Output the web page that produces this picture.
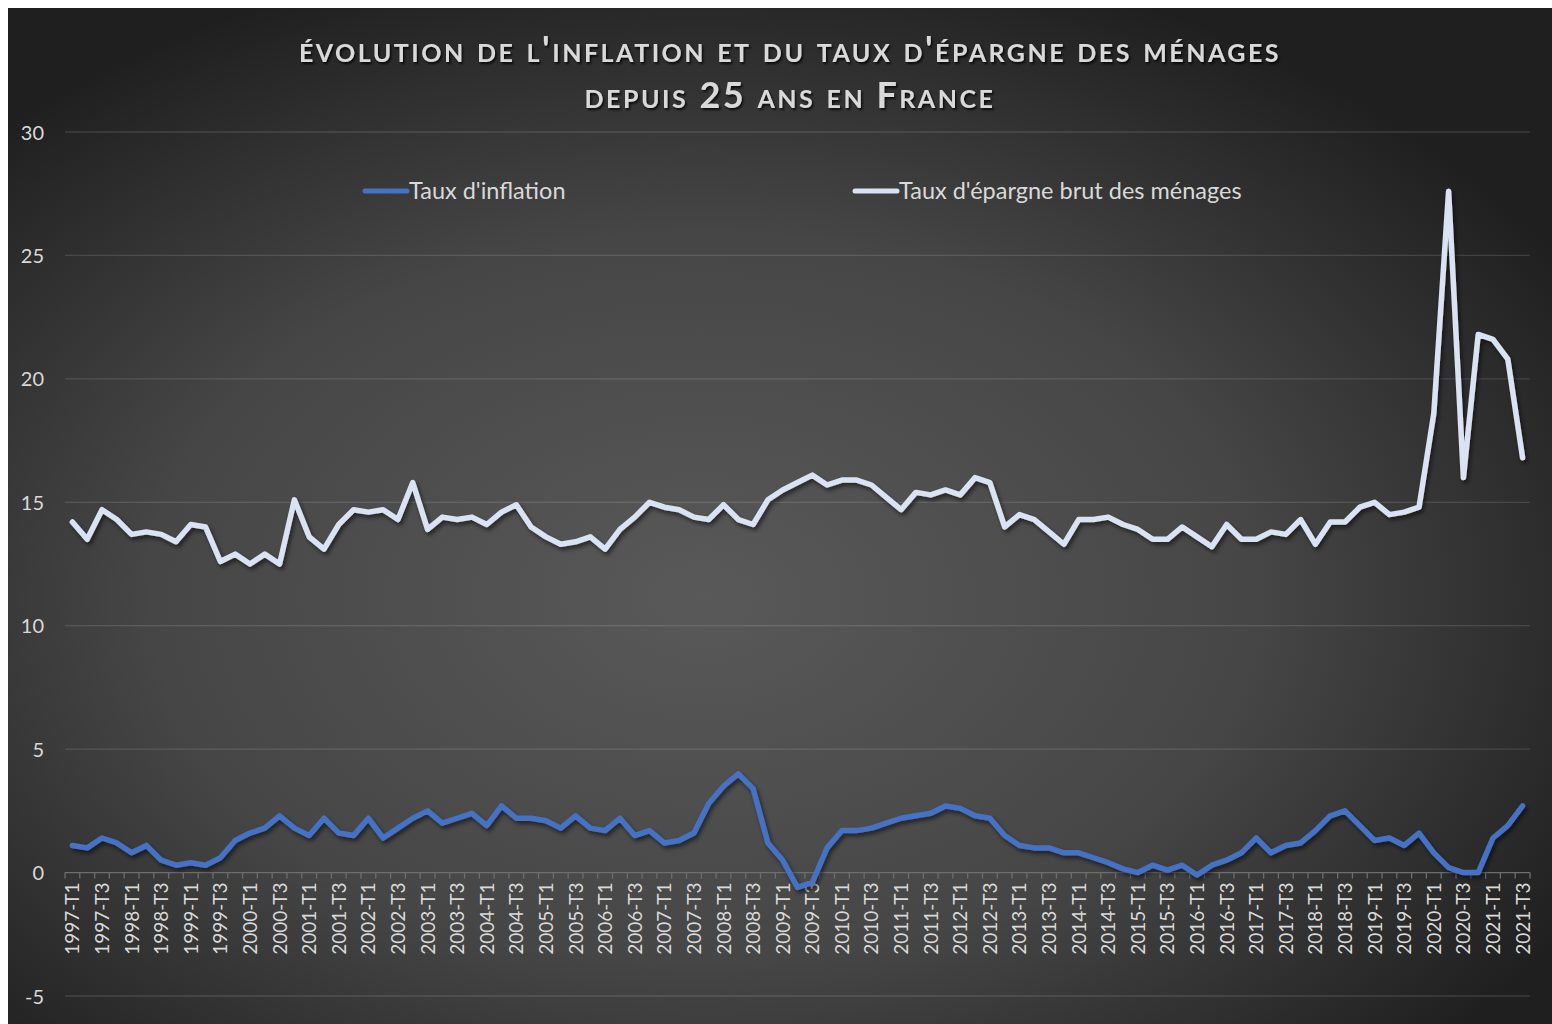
<!DOCTYPE html>
<html>
<head>
<meta charset="utf-8">
<script src="https://cdn.jsdelivr.net/npm/d3@7"></script>
<style>
  body { margin: 0; background: #fff; }
  svg { display: block; }
  text { font-family: Lato, 'Open Sans', sans-serif; }
</style>
</head>
<body>
<div class="canvas"></div>
<script>
// data
const years = d3.range(1997, 2022)
const quarters = ['T1', 'T2', 'T3', 'T4']
const categories = years
  .flatMap((y) => quarters.map((q) => `${y}-${q}`))
  .slice(0, 99) // last quarter: 2021-T3

const inflation = [
  1.1, 1.0, 1.4, 1.2, 0.8, 1.1, 0.5, 0.3, 0.4, 0.3, 0.6, 1.3,
  1.6, 1.8, 2.3, 1.8, 1.5, 2.2, 1.6, 1.5, 2.2, 1.4, 1.8, 2.2,
  2.5, 2.0, 2.2, 2.4, 1.9, 2.7, 2.2, 2.2, 2.1, 1.8, 2.3, 1.8,
  1.7, 2.2, 1.5, 1.7, 1.2, 1.3, 1.6, 2.8, 3.5, 4.0, 3.4, 1.2,
  0.5, -0.6, -0.4, 1.0, 1.7, 1.7, 1.8, 2.0, 2.2, 2.3, 2.4, 2.7,
  2.6, 2.3, 2.2, 1.5, 1.1, 1.0, 1.0, 0.8, 0.8, 0.6, 0.4, 0.15,
  0.0, 0.3, 0.1, 0.3, -0.1, 0.3, 0.5, 0.8, 1.4, 0.8, 1.1, 1.2,
  1.7, 2.3, 2.5, 1.9, 1.3, 1.4, 1.1, 1.6, 0.8, 0.2, 0.0, 0.0,
  1.4, 1.9, 2.7,
]

const savings = [
  14.2, 13.5, 14.7, 14.3, 13.7, 13.8, 13.7, 13.4, 14.1, 14.0, 12.6, 12.9,
  12.5, 12.9, 12.5, 15.1, 13.6, 13.1, 14.1, 14.7, 14.6, 14.7, 14.3, 15.8,
  13.9, 14.4, 14.3, 14.4, 14.1, 14.6, 14.9, 14.0, 13.6, 13.3, 13.4, 13.6,
  13.1, 13.9, 14.4, 15.0, 14.8, 14.7, 14.4, 14.3, 14.9, 14.3, 14.1, 15.1,
  15.5, 15.8, 16.1, 15.7, 15.9, 15.9, 15.7, 15.2, 14.7, 15.4, 15.3, 15.5,
  15.3, 16.0, 15.8, 14.0, 14.5, 14.3, 13.8, 13.3, 14.3, 14.3, 14.4, 14.1,
  13.9, 13.5, 13.5, 14.0, 13.6, 13.2, 14.1, 13.5, 13.5, 13.8, 13.7, 14.3,
  13.3, 14.2, 14.2, 14.8, 15.0, 14.5, 14.6, 14.8, 18.6, 27.6, 16.0, 21.8,
  21.6, 20.8, 16.8,
]

const yTicks = [-5, 0, 5, 10, 15, 20, 25, 30]
const seriesNames = ["Taux d'inflation", "Taux d'épargne brut des ménages"]
const seriesColors = ['#4472c4', '#dae3f3']

// dimensions
const dimensions = {
  width: 1552,
  height: 1024,
  frame: { x: 8, y: 8 },
  plot: { left: 65, right: 1530, top: 132, bottom: 996 },
}

const svg = d3
  .select('.canvas')
  .append('svg')
  .attr('width', dimensions.width)
  .attr('height', dimensions.height)

const defs = svg.append('defs')

// background gradient
const grad = defs
  .append('radialGradient')
  .attr('id', 'bg')
  .attr('cx', '45%')
  .attr('cy', '58%')
  .attr('r', '65%')
grad.append('stop').attr('offset', '0%').attr('stop-color', '#595959')
grad.append('stop').attr('offset', '55%').attr('stop-color', '#464646')
grad.append('stop').attr('offset', '100%').attr('stop-color', '#1f1f1f')

const shadow = defs.append('filter').attr('id', 'shadow')
  .attr('x', '-5%').attr('y', '-5%').attr('width', '110%').attr('height', '120%')
shadow
  .append('feDropShadow')
  .attr('dx', 2)
  .attr('dy', 3)
  .attr('stdDeviation', 2)
  .attr('flood-color', '#000')
  .attr('flood-opacity', 0.55)

const textShadow = defs.append('filter').attr('id', 'tshadow')
textShadow
  .append('feDropShadow')
  .attr('dx', 1.5)
  .attr('dy', 2)
  .attr('stdDeviation', 1.2)
  .attr('flood-color', '#000')
  .attr('flood-opacity', 0.8)

svg
  .append('rect')
  .attr('x', dimensions.frame.x)
  .attr('y', dimensions.frame.y)
  .attr('width', dimensions.width - dimensions.frame.x)
  .attr('height', dimensions.height - dimensions.frame.y)
  .attr('fill', 'url(#bg)')

// scales
const x = d3
  .scaleBand()
  .domain(categories)
  .range([dimensions.plot.left, dimensions.plot.right])
const xc = (d) => x(d) + x.bandwidth() / 2
const y = d3
  .scaleLinear()
  .domain([-5, 30])
  .range([dimensions.plot.bottom, dimensions.plot.top])

// gridlines
svg
  .append('g')
  .selectAll('line')
  .data(yTicks.filter((t) => t !== 0))
  .join('line')
  .attr('x1', dimensions.plot.left)
  .attr('x2', dimensions.plot.right)
  .attr('y1', (d) => y(d))
  .attr('y2', (d) => y(d))
  .attr('stroke', '#ffffff')
  .attr('stroke-opacity', 0.13)
  .attr('stroke-width', 1.3)

// y axis labels
const yAxis = d3
  .axisLeft(y)
  .tickValues(yTicks)
  .tickSize(0)
  .tickPadding(0)
  .tickFormat((d) => `${d}`)
const yAxisGroup = svg
  .append('g')
  .attr('transform', `translate(${dimensions.plot.left - 21}, 0)`)
  .call(yAxis)
yAxisGroup.select('.domain').remove()
yAxisGroup
  .selectAll('text')
  .attr('fill', '#d9d9d9')
  .attr('font-size', 20)
  .attr('dy', '0.35em')

// x axis line + tick marks
const xAxisGroup = svg.append('g').attr('class', 'x-axis')
xAxisGroup
  .append('line')
  .attr('x1', dimensions.plot.left)
  .attr('x2', dimensions.plot.right)
  .attr('y1', y(0))
  .attr('y2', y(0))
  .attr('stroke', '#6e6e6e')
  .attr('stroke-width', 1.3)
xAxisGroup
  .selectAll('.tick-mark')
  .data(categories.concat(['end']))
  .join('line')
  .attr('class', 'tick-mark')
  .attr('x1', (d) => (d === 'end' ? dimensions.plot.right : x(d)))
  .attr('x2', (d) => (d === 'end' ? dimensions.plot.right : x(d)))
  .attr('y1', y(0))
  .attr('y2', y(0) + 6)
  .attr('stroke', '#6e6e6e')
  .attr('stroke-width', 1.3)

// x labels (every other quarter)
xAxisGroup
  .selectAll('.x-label')
  .data(categories.filter((d, i) => i % 2 === 0))
  .join('text')
  .attr('class', 'x-label')
  .attr('transform', (d) => `translate(${xc(d) + 7}, ${y(0) + 10}) rotate(-90)`)
  .attr('text-anchor', 'end')
  .attr('fill', '#d9d9d9')
  .attr('font-size', 19)
  .text((d) => d)

// lines
const line = (values) =>
  d3
    .line()
    .x((d, i) => xc(categories[i]))
    .y((d) => y(d))(values)

svg
  .append('g')
  .selectAll('path')
  .data([inflation, savings])
  .join('path')
  .attr('d', (d) => line(d))
  .attr('fill', 'none')
  .attr('stroke', (d, i) => seriesColors[i])
  .attr('stroke-width', 5.5)
  .attr('stroke-linejoin', 'round')
  .attr('stroke-linecap', 'round')
  .attr('filter', 'url(#shadow)')

// legend
const legendX = [363, 853]
const legend = svg
  .append('g')
  .selectAll('g')
  .data(seriesNames)
  .join('g')
  .attr('transform', (d, i) => `translate(${legendX[i]}, 191)`)
legend
  .append('line')
  .attr('x1', 2)
  .attr('x2', 44)
  .attr('stroke', (d, i) => seriesColors[i])
  .attr('stroke-width', 5)
  .attr('stroke-linecap', 'round')
legend
  .append('text')
  .attr('x', 46)
  .attr('dy', '0.35em')
  .attr('fill', '#d9d9d9')
  .attr('font-size', 23.5)
  .text((d) => d)

// title
const titleLines = [
  "évolution de l'inflation et du taux d'épargne des ménages",
  'depuis 25 ans en France',
]
svg
  .append('g')
  .selectAll('text')
  .data(titleLines)
  .join('text')
  .attr('x', 790)
  .attr('y', (d, i) => 62 + i * 46)
  .attr('text-anchor', 'middle')
  .attr('fill', '#d9d9d9')
  .attr('font-size', 36)
  .attr('font-weight', 'bold')
  .attr('letter-spacing', 2.5)
  .style('font-variant', 'small-caps')
  .attr('filter', 'url(#tshadow)')
  .text((d) => d)
</script>
</body>
</html>
